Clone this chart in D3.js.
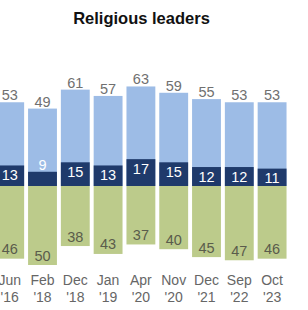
<!DOCTYPE html>
<html>
<head>
<meta charset="utf-8">
<script src="https://cdn.jsdelivr.net/npm/d3@7"></script>
<style>
  html, body { margin: 0; padding: 0; background: #fff; }
  svg { display: block; }
</style>
</head>
<body>
<svg id="chart" width="308" height="310"></svg>
<script>
const months = ["Jun", "Feb", "Dec", "Jan", "Apr", "Nov", "Dec", "Sep", "Oct"];
const years = ["'16", "'18", "'18", "'19", "'20", "'20", "'21", "'22", "'23"];
const positive = [53, 49, 61, 57, 63, 59, 55, 53, 53];
const greatDeal = [13, 9, 15, 13, 17, 15, 12, 12, 11];
const negative = [46, 50, 38, 43, 37, 40, 45, 47, 46];
const title = "Religious leaders";

const keys = months.map((m, i) => i);
const svg = d3.select("#chart");
const font = "'Liberation Sans', Arial, sans-serif";

const x = d3.scaleBand().domain(keys).range([-6.7, 288.5]).paddingInner(0.12).paddingOuter(0.06);
const y = d3.scaleLinear().domain([0, 50]).range([186, 107]);
const yd = d3.scaleLinear().domain([0, 50]).range([186, 265]);

svg.append("text")
  .attr("x", 141.5).attr("y", 24)
  .attr("text-anchor", "middle")
  .attr("font-family", font).attr("font-weight", "bold").attr("font-size", 16.5)
  .attr("fill", "#111")
  .text(title);

// light blue positive
svg.selectAll(".pos").data(keys).join("rect")
  .attr("x", i => x(i)).attr("width", x.bandwidth())
  .attr("y", i => y(positive[i])).attr("height", i => y(0) - y(positive[i]))
  .attr("fill", "#9dbce6");

// dark navy
svg.selectAll(".dark").data(keys).join("rect")
  .attr("x", i => x(i)).attr("width", x.bandwidth())
  .attr("y", i => y(greatDeal[i])).attr("height", i => y(0) - y(greatDeal[i]))
  .attr("fill", "#1f3a6b");

// green negative
svg.selectAll(".neg").data(keys).join("rect")
  .attr("x", i => x(i)).attr("width", x.bandwidth())
  .attr("y", yd(0)).attr("height", i => yd(negative[i]) - yd(0))
  .attr("fill", "#bccb8b");

const cx = i => x(i) + x.bandwidth() / 2;

svg.selectAll(".plab").data(keys).join("text")
  .attr("x", cx).attr("y", i => y(positive[i]) - 2)
  .attr("text-anchor", "middle").attr("font-family", font).attr("font-size", 14.5)
  .attr("fill", "#707070")
  .text(i => positive[i]);

svg.selectAll(".dlab").data(keys).join("text")
  .attr("x", cx).attr("y", i => greatDeal[i] >= 10 ? y(greatDeal[i]) + 14.5 : y(greatDeal[i]) - 2)
  .attr("text-anchor", "middle").attr("font-family", font).attr("font-size", 14.5)
  .attr("fill", "#ffffff")
  .text(i => greatDeal[i]);

svg.selectAll(".nlab").data(keys).join("text")
  .attr("x", cx).attr("y", i => yd(negative[i]) - 4.5)
  .attr("text-anchor", "middle").attr("font-family", font).attr("font-size", 14.5)
  .attr("fill", "#5a5c4c")
  .text(i => negative[i]);

const xl = svg.selectAll(".xl").data(keys).join("text")
  .attr("text-anchor", "middle").attr("font-family", font).attr("font-size", 14)
  .attr("fill", "#666");
xl.append("tspan").attr("x", cx).attr("y", 285).text(i => months[i]);
xl.append("tspan").attr("x", cx).attr("y", 302).text(i => years[i]);
</script>
</body>
</html>
